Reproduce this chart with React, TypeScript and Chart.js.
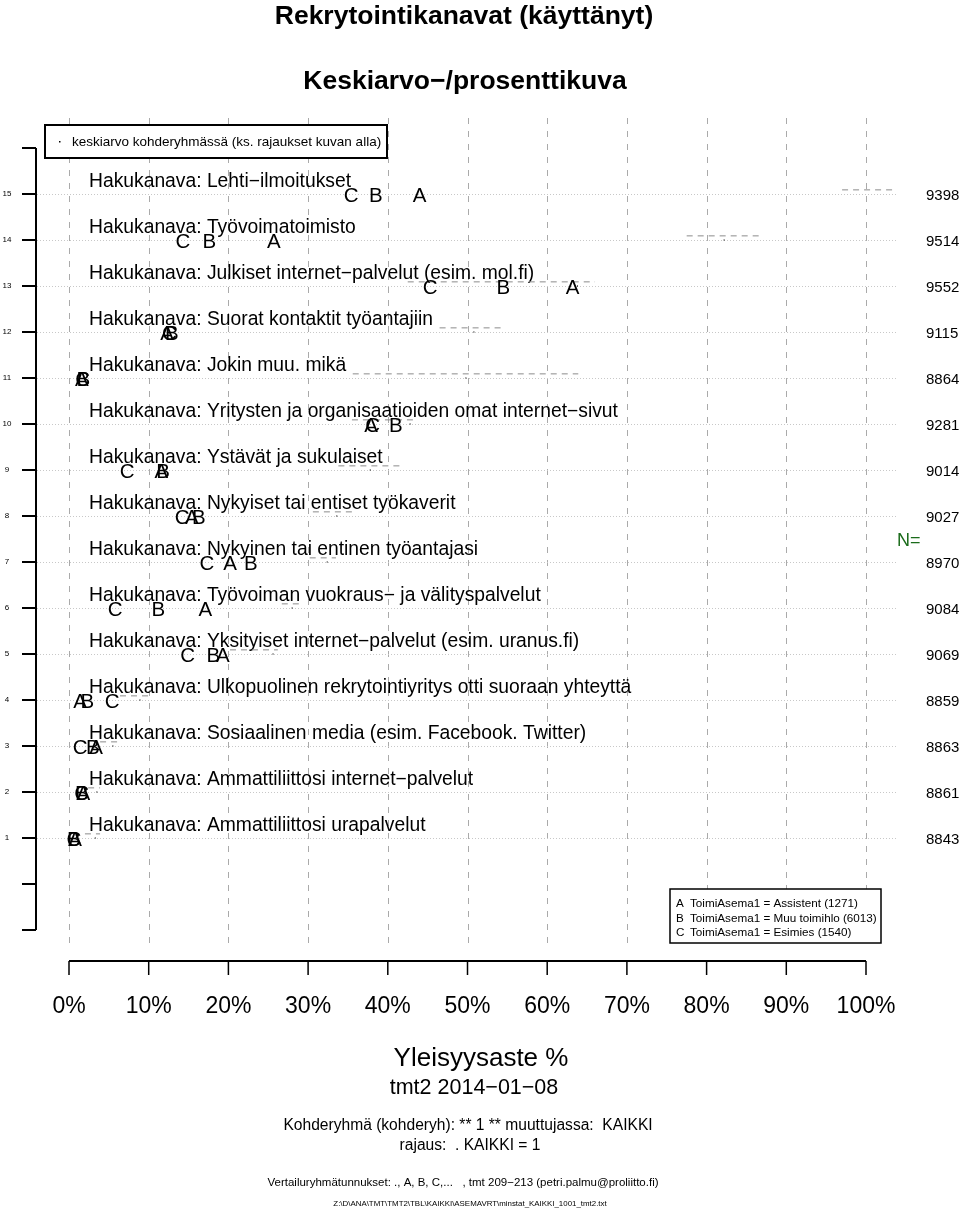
import React, { useEffect, useRef } from "react";
import { Chart, registerables } from "chart.js";

Chart.register(...registerables);

const FONT = '"Liberation Sans", Arial, Helvetica, sans-serif';

const titleText = "Rekrytointikanavat (käyttänyt)";
const subtitleText = "Keskiarvo−/prosenttikuva";

// Rows from top (15) to bottom (1)
const rowPositions = [15, 14, 13, 12, 11, 10, 9, 8, 7, 6, 5, 4, 3, 2, 1];
const categories = [
  "Hakukanava: Lehti−ilmoitukset",
  "Hakukanava: Työvoimatoimisto",
  "Hakukanava: Julkiset internet−palvelut (esim. mol.fi)",
  "Hakukanava: Suorat kontaktit työantajiin",
  "Hakukanava: Jokin muu. mikä",
  "Hakukanava: Yritysten ja organisaatioiden omat internet−sivut",
  "Hakukanava: Ystävät ja sukulaiset",
  "Hakukanava: Nykyiset tai entiset työkaverit",
  "Hakukanava: Nykyinen tai entinen työantajasi",
  "Hakukanava: Työvoiman vuokraus− ja välityspalvelut",
  "Hakukanava: Yksityiset internet−palvelut (esim. uranus.fi)",
  "Hakukanava: Ulkopuolinen rekrytointiyritys otti suoraan yhteyttä",
  "Hakukanava: Sosiaalinen media (esim. Facebook. Twitter)",
  "Hakukanava: Ammattiliittosi internet−palvelut",
  "Hakukanava: Ammattiliittosi urapalvelut",
];
const groupA = [44.0, 25.7, 63.2, 12.3, 1.6, 37.9, 11.6, 15.4, 20.2, 17.1, 19.3, 1.4, 3.4, 1.8, 0.75];
const groupB = [38.5, 17.6, 54.5, 12.9, 1.8, 41.0, 11.8, 16.3, 22.8, 11.2, 18.1, 2.3, 3.0, 1.6, 0.6];
const groupC = [35.4, 14.3, 45.3, 12.6, 1.7, 38.1, 7.3, 14.2, 17.3, 5.8, 14.9, 5.4, 1.4, 1.6, 0.6];
const meanValue = [102.4, 82.2, 63.8, 50.8, 49.8, 42.8, 37.8, 33.6, 32.4, 28.0, 25.6, 8.9, 5.5, 3.5, 3.3];
const meanLow = [97.0, 77.5, 42.5, 46.5, 35.6, 35.5, 33.8, 30.6, 30.2, 26.7, 20.2, 6.4, 3.9, 2.4, 2.0];
const meanHigh = [103.6, 87.0, 66.0, 54.5, 63.9, 43.3, 41.8, 35.5, 33.5, 29.0, 26.2, 10.2, 6.1, 3.9, 3.9];
const nValues = [9398, 9514, 9552, 9115, 8864, 9281, 9014, 9027, 8970, 9084, 9069, 8859, 8863, 8861, 8843];

const xTicks = [0, 10, 20, 30, 40, 50, 60, 70, 80, 90, 100];
const yAxisTicks = [-1, 0, 1, 2, 3, 4, 5, 6, 7, 8, 9, 10, 11, 12, 13, 14, 15, 16];
const yTickLabels = [1, 2, 3, 4, 5, 6, 7, 8, 9, 10, 11, 12, 13, 14, 15];

const topLegendText = "keskiarvo kohderyhmässä (ks. rajaukset kuvan alla)";
const groupLetters = ["A", "B", "C"];
const groupLegend = [
  "ToimiAsema1 = Assistent (1271)",
  "ToimiAsema1 = Muu toimihlo (6013)",
  "ToimiAsema1 = Esimies (1540)",
];
const xTitle = "Yleisyysaste %";
const dateLine = "tmt2 2014−01−08";
const footer1 = "Kohderyhmä (kohderyh): ** 1 ** muuttujassa:  KAIKKI";
const footer2 = "rajaus:  . KAIKKI = 1";
const footer3 = "Vertailuryhmätunnukset: ., A, B, C,...   , tmt 209−213 (petri.palmu@proliitto.fi)";
const footer4 = "Z:\\D\\ANA\\TMT\\TMT2\\TBL\\KAIKKI\\ASEMAVRT\\minstat_KAIKKI_1001_tmt2.txt";

const letterPlugin = {
  id: "letters",
  afterDatasetsDraw(chart: any) {
    const ctx = chart.ctx;
    ctx.save();
    ctx.fillStyle = "#000";
    ctx.font = `20.5px ${FONT}`;
    ctx.textAlign = "center";
    ctx.textBaseline = "alphabetic";
    chart.data.datasets.forEach((ds: any, i: number) => {
      if (!ds.letter) return;
      const meta = chart.getDatasetMeta(i);
      meta.data.forEach((el: any) => {
        ctx.fillText(ds.letter, el.x, el.y + 8);
      });
    });
    ctx.restore();
  },
};

const decorPlugin = {
  id: "decor",
  beforeDatasetsDraw(chart: any) {
    const ctx = chart.ctx;
    const xs = chart.scales.x;
    const ys = chart.scales.y;
    ctx.save();
    // vertical dashed gridlines
    ctx.strokeStyle = "#aaaaaa";
    ctx.lineWidth = 1;
    ctx.setLineDash([6, 7]);
    xTicks.forEach((t) => {
      const x = Math.round(xs.getPixelForValue(t)) + 0.5;
      ctx.beginPath();
      ctx.moveTo(x, 118);
      ctx.lineTo(x, 950);
      ctx.stroke();
    });
    // horizontal dotted lines
    ctx.strokeStyle = "#c8c8c8";
    ctx.setLineDash([1, 2]);
    rowPositions.forEach((r) => {
      const y = Math.round(ys.getPixelForValue(r)) + 0.5;
      ctx.beginPath();
      ctx.moveTo(37, y);
      ctx.lineTo(897, y);
      ctx.stroke();
    });
    ctx.setLineDash([]);
    // y axis
    ctx.strokeStyle = "#000";
    ctx.lineWidth = 2;
    const yTop = ys.getPixelForValue(16);
    const yBot = ys.getPixelForValue(-1);
    ctx.beginPath();
    ctx.moveTo(36, yTop);
    ctx.lineTo(36, yBot);
    ctx.stroke();
    yAxisTicks.forEach((t) => {
      const y = ys.getPixelForValue(t);
      ctx.beginPath();
      ctx.moveTo(22, y);
      ctx.lineTo(36, y);
      ctx.stroke();
    });
    ctx.fillStyle = "#000";
    ctx.font = `8px ${FONT}`;
    ctx.textAlign = "center";
    ctx.textBaseline = "middle";
    yTickLabels.forEach((t) => {
      ctx.fillText(String(t), 7, ys.getPixelForValue(t));
    });
    // x axis
    const xl = xs.getPixelForValue(0);
    const xr = xs.getPixelForValue(100);
    ctx.beginPath();
    ctx.moveTo(xl, 961);
    ctx.lineTo(xr, 961);
    ctx.stroke();
    ctx.lineWidth = 1.5;
    xTicks.forEach((t) => {
      const x = xs.getPixelForValue(t);
      ctx.beginPath();
      ctx.moveTo(x, 961);
      ctx.lineTo(x, 975);
      ctx.stroke();
    });
    ctx.font = `23px ${FONT}`;
    ctx.textAlign = "center";
    ctx.textBaseline = "alphabetic";
    xTicks.forEach((t) => {
      ctx.fillText(`${t}%`, xs.getPixelForValue(t), 1013);
    });
    // category labels
    ctx.font = `19.3px ${FONT}`;
    ctx.textAlign = "left";
    categories.forEach((c, i) => {
      ctx.fillText(c, 89, ys.getPixelForValue(rowPositions[i]) - 7);
    });
    // N values
    ctx.font = `15px ${FONT}`;
    ctx.textAlign = "left";
    nValues.forEach((n, i) => {
      ctx.fillText(String(n), 926, ys.getPixelForValue(rowPositions[i]) + 6);
    });
    ctx.fillStyle = "#1a6b1a";
    ctx.font = `18px ${FONT}`;
    ctx.fillText("N=", 897, ys.getPixelForValue(7.5) + 7);
    ctx.restore();
  },
  afterDraw(chart: any) {
    const ctx = chart.ctx;
    ctx.save();
    ctx.fillStyle = "#000";
    ctx.textAlign = "center";
    ctx.textBaseline = "alphabetic";
    ctx.font = `bold 26.5px ${FONT}`;
    ctx.fillText(titleText, 464, 24);
    ctx.fillText(subtitleText, 465, 89);
    // top legend
    ctx.fillStyle = "#fff";
    ctx.fillRect(45, 125, 342, 33);
    ctx.strokeStyle = "#000";
    ctx.lineWidth = 2;
    ctx.strokeRect(45, 125, 342, 33);
    ctx.fillStyle = "#000";
    ctx.fillRect(59, 141, 1.5, 1.5);
    ctx.font = `13.5px ${FONT}`;
    ctx.textAlign = "left";
    ctx.fillText(topLegendText, 72, 146);
    // bottom legend
    ctx.fillStyle = "#fff";
    ctx.fillRect(670, 889, 211, 54);
    ctx.lineWidth = 1.5;
    ctx.strokeRect(670, 889, 211, 54);
    ctx.fillStyle = "#000";
    ctx.font = `11.7px ${FONT}`;
    groupLetters.forEach((l, i) => {
      const y = 907 + i * 14.5;
      ctx.fillText(l, 676, y);
      ctx.fillText(groupLegend[i], 690, y);
    });
    // bottom texts
    ctx.textAlign = "center";
    ctx.font = `26px ${FONT}`;
    ctx.fillText(xTitle, 481, 1066);
    ctx.font = `21.5px ${FONT}`;
    ctx.fillText(dateLine, 474, 1094);
    ctx.font = `15.6px ${FONT}`;
    ctx.fillText(footer1, 468, 1130);
    ctx.fillText(footer2, 470, 1150);
    ctx.font = `11.5px ${FONT}`;
    ctx.fillText(footer3, 463, 1186);
    ctx.font = `7.9px ${FONT}`;
    ctx.fillText(footer4, 470, 1206);
    ctx.restore();
  },
};

export default function App() {
  const ref = useRef<HTMLCanvasElement | null>(null);
  useEffect(() => {
    if (!ref.current) return;
    const rangeData: any[] = [];
    rowPositions.forEach((r, i) => {
      rangeData.push({ x: meanLow[i], y: r + 0.09 });
      rangeData.push({ x: meanHigh[i], y: r + 0.09 });
      rangeData.push({ x: meanHigh[i], y: null });
    });
    const letterSet = (letter: string, vals: number[]) => ({
      label: letter,
      letter,
      data: rowPositions.map((r, i) => ({ x: vals[i], y: r })),
      pointRadius: 0,
      pointHoverRadius: 0,
      showLine: false,
      clip: false,
    });
    const chart = new Chart(ref.current, {
      type: "scatter",
      data: {
        datasets: [
          {
            label: "range",
            data: rangeData,
            showLine: true,
            spanGaps: false,
            borderColor: "#8c8c8c",
            borderWidth: 1,
            borderDash: [6, 5],
            pointRadius: 0,
            clip: false,
          } as any,
          {
            label: "keskiarvo",
            data: rowPositions.map((r, i) => ({ x: meanValue[i], y: r })),
            pointStyle: "rect",
            pointRadius: 0.8,
            backgroundColor: "#000",
            borderColor: "#000",
            borderWidth: 0,
            clip: false,
          } as any,
          letterSet("A", groupA) as any,
          letterSet("B", groupB) as any,
          letterSet("C", groupC) as any,
        ],
      },
      options: {
        responsive: false,
        animation: false,
        devicePixelRatio: 1,
        layout: { padding: { left: 69, right: 94, top: 148, bottom: 279 } },
        scales: {
          x: { type: "linear", min: 0, max: 100, display: false },
          y: { type: "linear", min: -1, max: 16, display: false },
        },
        plugins: {
          legend: { display: false },
          tooltip: { enabled: false },
          title: { display: false },
        },
        events: [],
      },
      plugins: [decorPlugin, letterPlugin],
    });
    return () => chart.destroy();
  }, []);
  return (
    <div style={{ position: "absolute", left: 0, top: 0, width: 960, height: 1209, background: "#fff" }}>
      <canvas ref={ref} width={960} height={1209} style={{ display: "block" }} />
    </div>
  );
}
